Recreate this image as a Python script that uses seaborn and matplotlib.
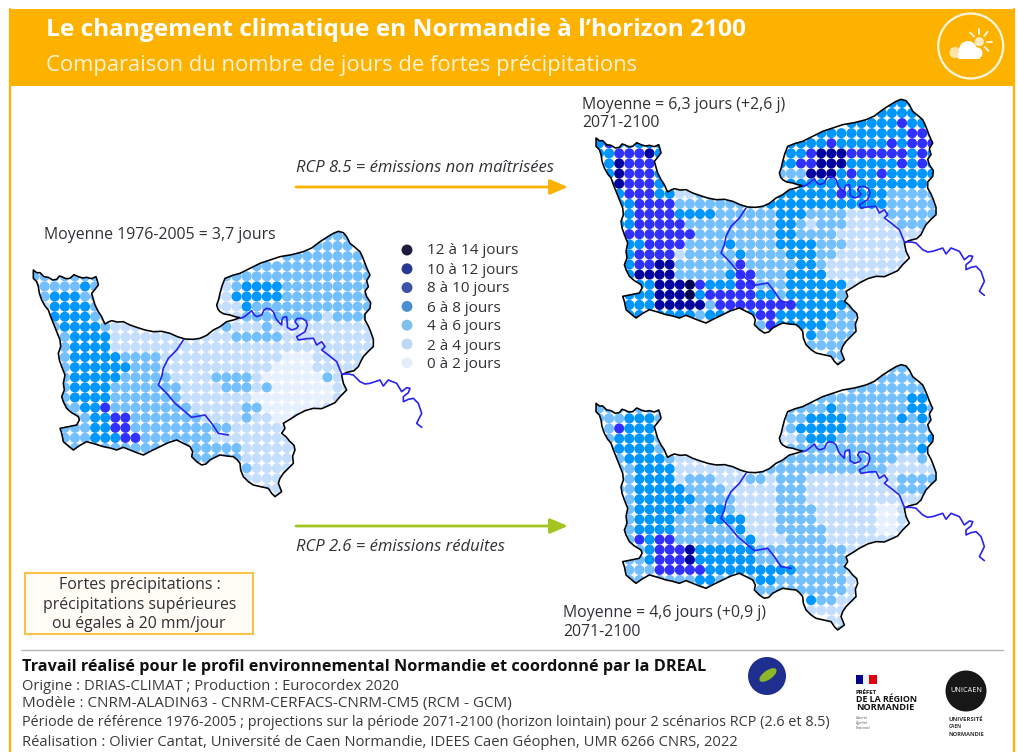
import matplotlib
matplotlib.use("Agg")
import matplotlib.pyplot as plt
from matplotlib.patches import Rectangle, Circle, Polygon, Ellipse
import numpy as np
import pandas as pd
import seaborn as sns

# ---------- data ----------
CLASS_LABELS = ["12 à 14 jours", "10 à 12 jours", "8 à 10 jours", "6 à 8 jours",
                "4 à 6 jours", "2 à 4 jours", "0 à 2 jours"]
CLASS_CODES = [6, 5, 4, 3, 2, 1, 0]
MAP_COLORS = {0: "#E6F0FF", 1: "#C4DEFF", 2: "#73BFFF", 3: "#0096FF",
              4: "#3030FF", 5: "#0000A0", 6: "#000050"}
LEGEND_COLORS = {6: "#1C1C3C", 5: "#283890", 4: "#3A52A8", 3: "#4A90D0",
                 2: "#7FC0EC", 1: "#BBD8F4", 0: "#E4EEFA"}

# rows of day classes: row index -> "startcol:codes startcol:codes"
GRID_1976 = {
 -1: "29:222",
 0: "28:2222",
 1: "25:22222222",
 2: "22:222222222222",
 3: "0:22222222 19:222222222222222",
 4: "0:2 1:2222 5:32 7:2 18:1 19:12 21:3333 25:222222222",
 5: "0:2 1:2 2:333 5:22 18:1 19:13 21:3333 25:222222222",
 6: "1:1 2:3333 6:2 18:1 19:11 21:3 22:222222222222",
 7: "1:1 2:3333 6:22 19:11 21:22222222 29:1 30:2222",
 8: "2:2 3:3333 7:2 8:111 18:12 20:111 23:2 24:1111111111",
 9: "2:2 3:2 4:3333 8:1111111 15:11111 20:22222 25:111111111",
 10: "2:2 3:2 4:3333 8:11111111111111111111111111",
 11: "2:2 3:2 4:33333 9:2222 13:111111111111 25:000 28:111111",
 12: "2:2 3:2 4:333333 10:222 13:11111111111 24:0000 28:11111",
 13: "2:2 3:2 4:33333 9:22222 14:1111 18:2222 22:1 23:000000 29:211",
 14: "2:2 3:2 4:3333 8:2222222 15:1111 19:222 22:1 23:2 24:000000 30:11",
 15: "2:2 3:2 4:3333 8:2222222 15:1111111 22:00000000 30:1",
 16: "2:2 3:22 5:33 7:4 8:22222222 16:11111 21:22 23:000000 29:11",
 17: "3:2 4:22 6:33 8:44 10:2222222 17:1111 21:2 22:11 24:00 26:1",
 18: "2:2 3:222 6:33 8:44 10:2222222222 20:111111",
 19: "2:2 3:222 6:33 8:3 9:44 11:2222222 18:111111111",
 20: "3:2222222 10:22 12:2222 16:22222 21:111111",
 21: "10:2222222 17:2222 21:111111",
 22: "21:2 22:1111",
 23: "21:1111 25:1",
 24: "23:111",
 25: "24:11",
}
GRID_RCP85 = {
 -1: "29:333",
 0: "28:3333",
 1: "25:33333 30:4 31:33",
 2: "22:333333333 31:44 33:3",
 3: "0:34 2:333333 19:3 20:333 23:4 24:33333 29:4 30:3 31:444",
 4: "0:3 1:3 2:444 5:5 6:33 19:3 20:3 21:4 22:555 25:444444 31:3 32:4 33:3",
 5: "1:3 2:5 3:44 5:4 6:3 18:3 19:3 20:44 22:555 25:33333 30:4 31:3 32:4 33:3",
 6: "1:3 2:5 3:444 6:3 18:222 21:555 24:3 25:4 26:33 28:4 29:33333",
 7: "1:3 2:5 3:444 6:33 19:3 20:33333333333333",
 8: "2:3 3:444 6:33 8:1122 18:333333 24:4 25:3333 29:222222",
 9: "2:3 3:3 4:4444 8:2222222 15:22 17:333333333333 29:22222",
 10: "2:3 3:3 4:4444 8:3333 12:22222 17:2 18:333 21:2222 25:1111 29:22222",
 11: "2:3 3:3 4:44444 9:2222222 16:22 18:33 20:2 21:1 22:222 25:11111 30:222",
 12: "2:3 3:4 4:444444 10:222222 16:22 18:33 20:2222 24:1 25:11111111",
 13: "2:3 3:33 5:4444 9:2222 13:3 14:2222 18:3333 22:222 25:11111111",
 14: "2:3 3:3 4:4444 8:1 9:2222 13:2 14:3 15:2222 19:333 22:22 24:1111111",
 15: "2:3 3:3 4:44 6:55 8:22222 13:2 14:4 15:2222 19:2 20:33 22:2 23:11111111",
 16: "2:3 3:3 4:5555 8:22222 13:3 14:44 16:222 19:3333 23:1111111",
 17: "3:3 4:33 6:555 9:6 10:4 11:333 14:44 16:222 19:333333 25:1111",
 18: "2:3 3:333 6:555 9:6 10:3 11:44444 16:33 18:2 19:33333 24:2 25:11",
 19: "2:3 3:333 6:55555 11:2 12:4444 16:4444 20:33333 25:222",
 20: "3:3333333 10:2 11:33333 16:44 18:333333 24:222",
 21: "10:2222222 17:4 18:333 21:33 23:2222",
 22: "21:3 22:22222",
 23: "21:2222 25:2",
 24: "23:222",
 25: "24:22",
}
GRID_RCP26 = {
 -1: "29:222",
 0: "28:2222",
 1: "25:22222222",
 2: "22:222222222 31:33 33:2",
 3: "0:22 2:222222 19:2 20:222 23:3 24:2222222 31:33 33:2",
 4: "0:2 1:22 3:333 6:22 19:2 20:2 21:3333 25:22222 30:3 31:2 32:3 33:2",
 5: "1:2 2:4 3:333 6:2 18:1 19:2 20:3 21:3333 25:222222222",
 6: "1:2 2:3333 6:2 18:1 19:1 20:2 21:333 24:222222222 33:3",
 7: "1:2 2:3333 6:22 19:2 20:222222222222 32:33",
 8: "2:2 3:3333 7:2 8:111 18:222222222222 30:11 32:2",
 9: "2:2 3:2 4:3333 8:1111111 16:2222222222222 29:11111",
 10: "2:2 3:2 4:3333 8:1 9:222 12:111 15:22 17:1 18:222 21:11111111 29:1 30:2222",
 11: "2:2 3:2 4:33333 9:2222 13:1111 17:1 18:222 21:11111111 29:1 30:222",
 12: "2:2 3:2 4:333333 10:2222 14:1111 18:222 21:1111111 28:11111",
 13: "2:2 3:2 4:33333 9:22 11:33 13:2 14:1111 18:2222 22:11111 27:1 28:00 30:11",
 14: "2:2 3:2 4:3333 8:222 11:3333 15:111 18:2222 22:11111 27:1 28:00 30:11",
 15: "2:2 3:2 4:3333 8:222222 14:3 15:111 18:2 19:2222 23:11111 28:00 30:1",
 16: "2:2 3:2 4:4 5:3 6:44 8:2222222 15:3 16:111 19:2222 23:11111111",
 17: "3:2 4:2 5:3 6:444 9:5 10:333333 16:222 19:222222 25:11",
 18: "2:2 3:22 5:3 6:444 9:5 10:333333 16:222 19:222222 25:1",
 19: "2:2 3:222 6:44444 11:33333 16:3333 20:22222 25:11",
 20: "3:2222222 10:33 12:2222 16:33 18:2222222 25:11",
 21: "10:2222222 17:222 20:22222 25:11",
 22: "21:3 22:22 24:11",
 23: "21:1111 25:1",
 24: "23:111",
 25: "24:21",
}

# base map (coast and department limit), river Seine and river Orne limit, map units
OUTLINE = [(40,150),(50,158),(60,158),(72,170),(85,172),(98,180),(110,178),(118,168),(125,170),(138,176),
 (150,175),(162,164),(175,170),(188,174),(200,172),(215,176),(228,170),(232,182),(235,195),(225,208),
 (215,220),(220,238),(225,255),(235,275),(245,290),(250,302),(255,312),(265,306),(275,302),(292,306),
 (310,305),(330,315),(350,322),(375,330),(400,335),(425,334),(450,340),(472,350),(495,357),(518,358),
 (540,355),(560,346),(580,330),(600,320),(620,305),(640,300),(660,293),(645,290),(630,285),(612,282),
 (600,275),(594,268),(590,255),(596,238),(600,220),(606,198),(615,175),(638,166),(660,160),(690,145),
 (720,130),(750,120),(780,110),(815,104),(850,95),(875,84),(900,65),(920,52),(940,40),(955,34),
 (970,38),(980,50),(990,70),(1005,82),(1020,95),(1028,112),(1035,130),(1042,148),(1050,165),(1040,182),
 (1045,200),(1035,214),(1040,230),(1052,248),(1050,265),(1035,282),(1035,300),(1045,318),(1052,335),(1060,358),
 (1060,380),(1045,394),(1030,410),(1022,425),(1015,440),(1002,452),(990,455),(978,458),(965,465),(970,490),
 (980,510),(968,522),(960,530),(945,548),(930,555),(905,566),(880,565),(855,572),(830,585),(810,598),
 (790,610),(795,625),(785,640),(798,650),(810,665),(822,676),(825,690),(818,708),(820,730),(805,745),
 (790,760),(780,775),(775,790),(785,815),(765,830),(755,820),(745,805),(722,800),(700,795),(685,785),
 (670,770),(662,750),(660,730),(650,718),(640,710),(620,708),(600,705),(585,712),(570,720),(558,732),
 (545,735),(530,725),(515,710),(518,695),(510,680),(490,670),(470,660),(445,668),(420,680),(395,692),
 (370,705),(350,698),(330,690),(310,682),(290,690),(270,684),(250,680),(225,672),(200,665),(180,676),
 (160,690),(145,678),(130,665),(125,640),(120,625),(145,620),(170,615),(178,600),(175,590),(155,578),
 (140,565),(130,545),(125,530),(133,510),(130,490),(135,465),(125,440),(118,420),(115,400),(122,380),
 (120,360),(110,335),(100,310),(92,290),(85,270),(75,258),(65,240),(58,220),(55,200),(50,185),(40,175)]
SEINE = [(660,295),(670,292),(680,285),(695,272),(702,284),(710,290),(725,285),(732,270),(740,265),(752,268),(760,275),
 (768,296),(775,305),(785,315),(786,298),(790,292),(800,290),(802,310),(802,322),(815,330),(830,325),(835,318),(825,305),(830,296),(845,295),
 (858,302),(862,315),(855,335),(838,346),(830,350),(835,360),(860,356),(880,355),(890,375),(905,365),(915,380),(905,390),(925,405),(950,425),(965,462),
 (985,462),(1000,465),(1020,485),(1035,492),(1050,490),(1080,480),(1090,498),(1105,480),(1130,490),(1145,515),(1160,503),(1170,505),(1165,518),(1150,530),(1150,545),
 (1165,538),(1180,535),(1195,550),(1205,580),(1190,610),(1205,622)]
ORNE = [(490,360),(470,390),(445,415),(430,445),(425,470),(415,495),(440,520),(465,550),(495,575),(515,592),
 (555,585),(575,610),(595,640),(625,645)]

TITLE = "Le changement climatique en Normandie à l’horizon 2100"
SUBTITLE = "Comparaison du nombre de jours de fortes précipitations"
FOOT_BOLD = "Travail réalisé pour le profil environnemental Normandie et coordonné par la DREAL"
FOOT_LINES = ["Origine : DRIAS-CLIMAT ; Production : Eurocordex 2020",
              "Modèle : CNRM-ALADIN63 - CNRM-CERFACS-CNRM-CM5 (RCM - GCM)",
              "Période de référence 1976-2005 ; projections sur la période 2071-2100 (horizon lointain) pour 2 scénarios RCP (2.6 et 8.5)",
              "Réalisation : Olivier Cantat, Université de Caen Normandie, IDEES Caen Géophen, UMR 6266 CNRS, 2022"]

# ---------- figure ----------
sns.set_theme(style="white")
plt.rcParams["font.family"] = ["Open Sans", "DejaVu Sans"]
fig = plt.figure(figsize=(10.18, 7.52), dpi=100, facecolor="white")
ax = fig.add_axes([0, 0, 1, 1])
ax.set_xlim(0, 1018); ax.set_ylim(752, 0); ax.axis("off")
rend = fig.canvas.get_renderer()
DARK = "#2F3136"

def fit(s, x0, x1, y, size=10, **kw):
    t = ax.text(x0, y, s, va="center", ha="left", fontsize=size, **kw)
    w = t.get_window_extent(rend).width
    t.set_fontsize(size * (x1 - x0) / w)
    return t

def grid_frame(grid):
    recs = []
    for r, spec in grid.items():
        for seg in spec.split():
            start, codes = seg.split(":")
            for i, ch in enumerate(codes):
                recs.append((int(start) + i, r, int(ch)))
    return pd.DataFrame(recs, columns=["col", "row", "classe"])

STEP = 10.1
def to_px(pairs, dx, dy):
    a = np.array(pairs, dtype=float)
    return 20 + a[:, 0] / 3 + dx, 220 + a[:, 1] / 3 + dy

def draw_map(grid, dx, dy, gx, gy):
    df = grid_frame(grid)
    df["x"] = gx + STEP * df["col"]
    df["y"] = gy + STEP * df["row"]
    ox, oy = to_px(OUTLINE, dx, dy)
    poly = Polygon(np.c_[ox, oy], closed=True, fc="none", ec="black", lw=1.15, zorder=5, joinstyle="round")
    ax.add_patch(poly)
    before = len(ax.collections)
    sns.scatterplot(data=df, x="x", y="y", hue="classe", palette=MAP_COLORS, s=53,
                    linewidth=0, legend=False, ax=ax, zorder=3)
    ax.collections[before].set_clip_path(poly)
    for river in (SEINE, ORNE):
        rx, ry = to_px(river, dx, dy)
        ax.plot(rx, ry, color="#2A22F0", lw=1.2, zorder=6)

ORANGE = "#FDB200"
ax.add_patch(Rectangle((10, 9), 1004, 77, fc=ORANGE, ec="none", zorder=1))
ax.plot([10.5, 10.5], [9, 752], color=ORANGE, lw=1.6, zorder=1)
ax.plot([1014, 1014], [9, 752], color=ORANGE, lw=1.6, zorder=1)
fit(TITLE, 46, 747, 30, color="white", fontweight="bold")
fit(SUBTITLE, 46, 637, 66, color="#FFF3D6")

# icon
ax.add_patch(Circle((970.7, 46), 32.5, fc="none", ec="#FFF6E0", lw=1.6, zorder=2))
ax.add_patch(Circle((979.3, 41.7), 4.6, fc="#FFEBC0", ec="none", zorder=2))
for a in [-135, -90, -50, 0, 45]:
    ca, sa = np.cos(np.radians(a)), np.sin(np.radians(a))
    ax.plot([979.3 + 7.5 * ca, 979.3 + 13 * ca], [41.7 + 7.5 * sa, 41.7 + 13 * sa], color="#FFF3D6", lw=1.4, zorder=2)
ax.add_patch(Circle((955, 52.5), 5.6, fc="#FFE4A8", ec="none", zorder=2))
ax.add_patch(Circle((968, 50), 9, fc="white", ec="none", zorder=3))
ax.add_patch(Circle((977, 53), 5.5, fc="white", ec="none", zorder=3))
ax.add_patch(Rectangle((958, 53), 22, 5.5, fc="white", ec="none", zorder=3))

# maps
draw_map(GRID_1976, 0, 0, 34.5, 246)
draw_map(GRID_RCP85, 562.7, -132, 599, 113)
draw_map(GRID_RCP26, 562.7, 133.3, 599, 378)

# annotations
t = fit("Moyenne 1976-2005 = 3,7 jours", 44, 276, 235, color=DARK)
fs = t.get_fontsize()
ax.text(582, 105, "Moyenne = 6,3 jours (+2,6 j)", fontsize=fs, va="center", color=DARK)
ax.text(582, 123, "2071-2100", fontsize=fs, va="center", color=DARK)
ax.text(563, 613, "Moyenne = 4,6 jours (+0,9 j)", fontsize=fs, va="center", color=DARK)
ax.text(563, 632, "2071-2100", fontsize=fs, va="center", color=DARK)

# legend
legend_df = pd.DataFrame({"classe": CLASS_CODES, "rang": range(7)})
legend_df["x"] = 407
legend_df["y"] = 250 + 18.8 * legend_df["rang"]
sns.scatterplot(data=legend_df, x="x", y="y", hue="classe", palette=LEGEND_COLORS, s=62,
                linewidth=0, legend=False, ax=ax, zorder=3)
lfs = fit(CLASS_LABELS[0], 427, 518, 251, color=DARK).get_fontsize()
for i, lab in enumerate(CLASS_LABELS[1:], start=1):
    ax.text(427, 251 + 19 * i, lab, fontsize=lfs, va="center", color=DARK)

# scenario arrows
for y, col, lab, tx1, ty in [(187, ORANGE, "RCP 8.5 = émissions non maîtrisées", 553, 168),
                             (526, "#A3C520", "RCP 2.6 = émissions réduites", 504, 547)]:
    ax.annotate("", xy=(568, y), xytext=(296, y),
                arrowprops=dict(arrowstyle="-|>,head_length=0.9,head_width=0.38", color=col, lw=2, shrinkA=0, shrinkB=0))
    fit(lab, 296, tx1, ty, color=DARK, style="italic")

# definition box
ax.add_patch(Rectangle((25.5, 572.5), 228, 61, fc="#FFFDF6", ec="#F9C24B", lw=1.5, zorder=2))
for s, x0, x1, y in [("Fortes précipitations :", 59, 221, 585),
                     ("précipitations supérieures", 43, 237, 605),
                     ("ou égales à 20 mm/jour", 52, 226, 624)]:
    fit(s, x0, x1, y, color=DARK, zorder=3)

# footer
ax.plot([21, 1003], [649.5, 649.5], color="#B5B5B5", lw=1)
fit(FOOT_BOLD, 22, 708, 667, color="#111111", fontweight="bold")
for s, x1, y in zip(FOOT_LINES, [397, 513, 828, 738], [686, 703, 722, 742]):
    fit(s, 22, x1, y, color="#3A3A3A")

# partner marks
ax.add_patch(Ellipse((767, 676), 38, 38, fc="#1F2F8F", ec="none"))
ax.add_patch(Ellipse((768, 675), 20, 9, angle=-35, fc="#8CB828", ec="none"))
ax.add_patch(Rectangle((856, 675), 7.5, 9, fc="#000091", ec="none"))
ax.add_patch(Rectangle((863.5, 675), 6, 9, fc="#F0F0F0", ec="none"))
ax.add_patch(Rectangle((869.5, 675), 8, 9, fc="#E1000F", ec="none"))
for s, x1, y in [("PRÉFET", 877, 692), ("DE LA RÉGION", 918, 700), ("NORMANDIE", 914, 708)]:
    fit(s, 856, x1, y, color="#111111", fontweight="bold")
for s, x1, y in [("Liberté", 868, 718), ("Égalité", 868, 723), ("Fraternité", 871, 728)]:
    fit(s, 856, x1, y, color="#555555", style="italic")
ax.add_patch(Circle((966, 691), 20.5, fc="#171717", ec="none"))
ax.text(966, 691, "UNICAEN", color="white", fontsize=5.2, ha="center", va="center")
for s, x1, y in [("UNIVERSITÉ", 984, 719), ("CAEN", 962, 727), ("NORMANDIE", 985, 735)]:
    fit(s, 949, x1, y, color="#333333", fontweight="bold")

fig.savefig("out.png", dpi=100, facecolor="white")
